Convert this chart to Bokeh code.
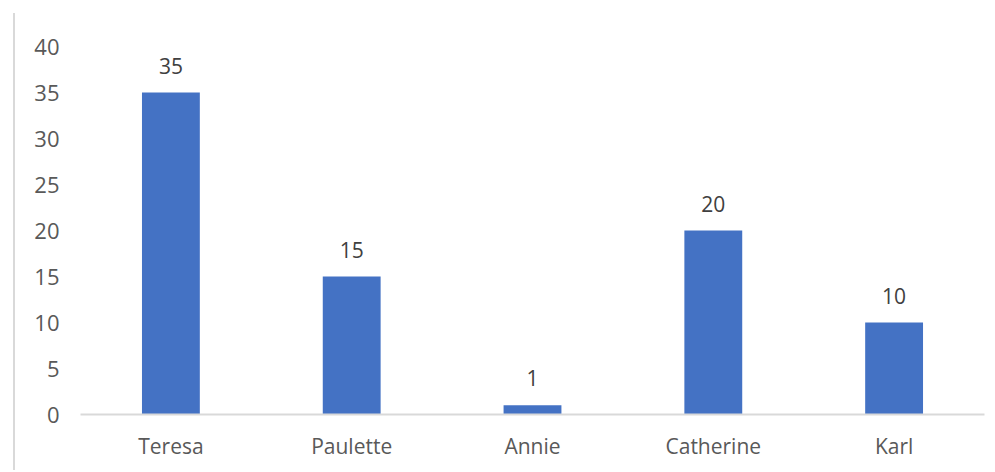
from bokeh.plotting import figure
from bokeh.models import ColumnDataSource, Div, FixedTicker
from bokeh.layouts import row
from bokeh.core.properties import value
from bokeh.embed import file_html
from bokeh.resources import INLINE

names = ["Teresa", "Paulette", "Annie", "Catherine", "Karl"]
counts = [35, 15, 1, 20, 10]
y_ticks = [0, 5, 10, 15, 20, 25, 30, 35, 40]

FONT = "Open Sans"
src = ColumnDataSource(dict(name=names, count=counts, label=[str(c) for c in counts]))

p = figure(x_range=names, y_range=(0, 40), width=983, height=472,
           output_backend="svg", toolbar_location=None,
           min_border_left=60, min_border_right=19, min_border_top=46, min_border_bottom=58)
p.vbar(x="name", top="count", width=0.32, source=src, color="#4472C4", line_color=None)
p.text(x="name", y="count", text="label", source=src, text_align="center",
       text_baseline="bottom", y_offset=-19, text_font=value(FONT),
       text_font_size="21px", text_color="#404040")

p.grid.visible = False
p.outline_line_color = None
p.background_fill_color = "white"
p.border_fill_color = "white"

p.yaxis.ticker = FixedTicker(ticks=y_ticks)
p.yaxis.axis_line_color = None
p.yaxis.major_tick_line_color = None
p.yaxis.major_tick_out = 0
p.yaxis.minor_tick_line_color = None
p.yaxis.major_label_standoff = 21
p.yaxis.major_label_text_font = FONT
p.yaxis.major_label_text_font_size = "22px"
p.yaxis.major_label_text_color = "#595959"

p.xaxis.axis_line_color = "#d9d9d9"
p.xaxis.axis_line_width = 2
p.xaxis.major_tick_line_color = None
p.xaxis.major_tick_out = 0
p.xaxis.minor_tick_line_color = None
p.xaxis.major_label_standoff = 17
p.xaxis.major_label_text_font = FONT
p.xaxis.major_label_text_font_size = "21px"
p.xaxis.major_label_text_color = "#595959"

edge = Div(text="", width=10, height=457,
           styles={"border-right": "2px solid #d9d9d9", "margin-top": "13px"})

layout = row(edge, p, spacing=0)
open("out.html", "w").write(file_html(layout, INLINE))
